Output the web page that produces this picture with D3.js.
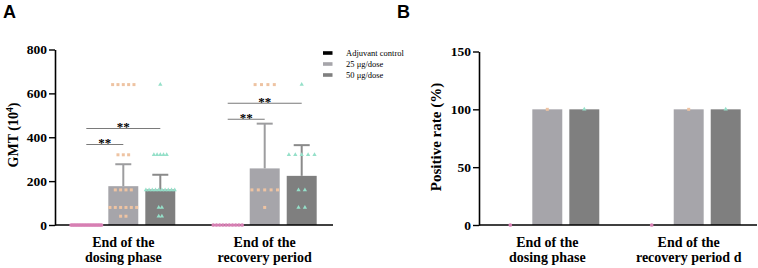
<!DOCTYPE html>
<html>
<head>
<meta charset="utf-8">
<script src="https://cdn.jsdelivr.net/npm/d3@7"></script>
<style>
  html, body { margin: 0; padding: 0; background: #fff; }
  svg text { font-family: "Liberation Serif", "Times New Roman", serif; }
</style>
</head>
<body>
<div id="chart"></div>
<script>
// categories
const groupsA = ["End of the|dosing phase", "End of the|recovery period"];
const groupsB = ["End of the|dosing phase", "End of the|recovery period d"];
const series = ["Adjuvant control", "25 μg/dose", "50 μg/dose"];

// panel A: GMT (10^4), bar = GMT, whisker = upper SD
const gmtDosing = [0, 177, 162];
const gmtRecovery = [0, 258, 224];
const errDosing = [0, 277, 229];
const errRecovery = [0, 462, 364];

// individual titers (10^4)
const ptsDosingAdj = [0, 0, 0, 0, 0, 0, 0, 0, 0, 0, 0, 0, 0, 0, 0, 0, 0, 0, 0, 0];
const ptsDosing25 = [640, 640, 640, 640, 640, 320, 320, 320, 160, 160, 160, 160, 80, 80, 80, 80, 80, 80, 40, 40];
const ptsDosing50 = [640, 320, 320, 320, 320, 320, 160, 160, 160, 160, 160, 160, 160, 160, 160, 160, 80, 80, 40, 40];
const ptsRecoveryAdj = [0, 0, 0, 0, 0, 0, 0, 0, 0, 0];
const ptsRecovery25 = [640, 640, 640, 640, 160, 160, 160, 160, 160, 80];
const ptsRecovery50 = [640, 320, 320, 320, 320, 320, 160, 160, 80, 80];

// significance brackets: group index, from series, to series, height (10^4)
const sigGroup = [0, 0, 1, 1];
const sigTo = [1, 2, 1, 2];
const sigY = [367, 440, 482, 555];
const sigLabel = ["**", "**", "**", "**"];

const yTicksA = [0, 200, 400, 600, 800];

// panel B: positive rate (%)
const rateDosing = [0, 100, 100];
const rateRecovery = [0, 100, 100];
const yTicksB = [0, 50, 100, 150];

const barColors = ["#000000", "#a6a5aa", "#7f7f7f"];
const errColors = ["#000000", "#9d9d9f", "#8a8a8a"];
const dotColors = ["#d77fb3", "#eec3a2", "#95e0c9"];
const dotShapes = [d3.symbolCircle, d3.symbolSquare, d3.symbolTriangle];
const dotSizes = [11, 9, 8];

const svg = d3.select("#chart").append("svg")
    .attr("width", 758).attr("height", 268);

function drawPanel(p) {
    const g = svg.append("g");
    const x0 = d3.scalePoint().domain(p.groups).range([p.left, p.left + 278]).padding(0.483);
    const xs = d3.scaleBand().domain(series).range([-55.5, 55.5]).paddingInner(0.19).paddingOuter(0.095);
    const y = d3.scaleLinear().domain(p.domain).range([225, p.top]);
    const bw = xs.bandwidth();
    const cx = (gi, si) => x0(p.groups[gi]) + xs(series[si]) + bw / 2;

    // bars (adjuvant bars are zero height)
    p.groups.forEach((grp, gi) => {
        series.forEach((s, si) => {
            const v = p.values[gi][si];
            if (v <= 0) return;
            g.append("rect")
                .attr("x", x0(grp) + xs(s)).attr("width", bw)
                .attr("y", y(v)).attr("height", y(0) - y(v))
                .attr("fill", barColors[si]);
        });
    });

    // error bars (upper only)
    if (p.err) {
        p.groups.forEach((grp, gi) => {
            series.forEach((s, si) => {
                const v = p.values[gi][si], e = p.err[gi][si];
                if (e <= v) return;
                const c = cx(gi, si);
                g.append("line").attr("x1", c).attr("x2", c).attr("y1", y(v)).attr("y2", y(e))
                    .attr("stroke", errColors[si]).attr("stroke-width", 2);
                g.append("line").attr("x1", c - 8).attr("x2", c + 8).attr("y1", y(e)).attr("y2", y(e))
                    .attr("stroke", errColors[si]).attr("stroke-width", 2);
            });
        });
    }

    // axes
    g.append("line").attr("x1", p.left).attr("x2", p.left + 278)
        .attr("y1", y(0)).attr("y2", y(0)).attr("stroke", "#000").attr("stroke-width", 1.6);
    const ax = g.append("g").attr("transform", `translate(${p.left},0)`)
        .call(d3.axisLeft(y).tickValues(p.ticks).tickSize(6).tickSizeOuter(0).tickPadding(2));
    ax.select(".domain").attr("stroke", "#000").attr("stroke-width", 1.6);
    ax.selectAll(".tick line").attr("stroke", "#000").attr("stroke-width", 1.4);
    ax.selectAll(".tick text").attr("font-family", "Liberation Serif, serif")
        .attr("font-weight", "bold").attr("font-size", 13.5).attr("fill", "#000");

    // scatter points
    p.points.forEach((row, gi) => {
        row.forEach((vals, si) => {
            if (!vals) return;
            const counts = d3.rollup(vals, v => v.length, d => d);
            const maxN = d3.max(Array.from(counts.values()));
            const gap = Math.min(7, 32 / maxN);
            counts.forEach((n, val) => {
                for (let k = 0; k < n; k++) {
                    const px = cx(gi, si) + (k - (n - 1) / 2) * gap;
                    g.append("path")
                        .attr("d", d3.symbol().type(dotShapes[si]).size(dotSizes[si])())
                        .attr("transform", `translate(${px},${y(val)})`)
                        .attr("fill", dotColors[si]);
                }
            });
        });
    });

    // significance brackets
    if (p.sig) {
        sigGroup.forEach((gi, i) => {
            const xa = cx(gi, 0), xb = cx(gi, sigTo[i]), yy = y(sigY[i]);
            g.append("line").attr("x1", xa).attr("x2", xb).attr("y1", yy).attr("y2", yy)
                .attr("stroke", "#7a7a7a").attr("stroke-width", 1.1);
            g.append("text").attr("x", (xa + xb) / 2).attr("y", yy + 2.5)
                .attr("text-anchor", "middle").attr("font-size", 13).attr("font-weight", "bold")
                .attr("fill", "#000").text(sigLabel[i]);
        });
    }

    // x category labels
    p.groups.forEach(grp => {
        const lines = grp.split("|");
        lines.forEach((ln, li) => {
            g.append("text").attr("x", x0(grp)).attr("y", 247 + li * 15)
                .attr("text-anchor", "middle").attr("font-size", 14).attr("font-weight", "bold")
                .attr("fill", "#000").text(ln);
        });
    });

    // y title
    const yt = g.append("text")
        .attr("transform", `translate(${p.titleX},${p.titleY}) rotate(-90)`)
        .attr("text-anchor", "middle").attr("font-size", p.titleSize).attr("font-weight", "bold")
        .attr("fill", "#000");
    p.title(yt);

    // panel letter (sans-serif, set as style so the css rule does not win)
    g.append("text").attr("x", p.letterX).attr("y", 18)
        .style("font-family", "'Liberation Sans', Arial, sans-serif")
        .attr("font-size", 18).attr("font-weight", "bold").attr("fill", "#000").text(p.letter);
}

drawPanel({
    left: 55, top: 49.5, domain: [0, 800], ticks: yTicksA, groups: groupsA,
    values: [gmtDosing, gmtRecovery], err: [errDosing, errRecovery],
    points: [[ptsDosingAdj, ptsDosing25, ptsDosing50], [ptsRecoveryAdj, ptsRecovery25, ptsRecovery50]],
    sig: true, letter: "A", letterX: 3, titleX: 18, titleY: 135, titleSize: 14,
    title: t => {
        t.append("tspan").text("GMT (10");
        t.append("tspan").attr("baseline-shift", "super").attr("font-size", 9.5).text("4");
        t.append("tspan").text(")");
    }
});

drawPanel({
    left: 479, top: 51.5, domain: [0, 150], ticks: yTicksB, groups: groupsB,
    values: [rateDosing, rateRecovery], err: null,
    points: [[[rateDosing[0]], [rateDosing[1]], [rateDosing[2]]], [[rateRecovery[0]], [rateRecovery[1]], [rateRecovery[2]]]],
    sig: false, letter: "B", letterX: 397, titleX: 441, titleY: 137, titleSize: 15,
    title: t => t.text("Positive rate (%)")
});

// legend
const leg = svg.append("g").attr("transform", "translate(323,53)");
series.forEach((s, i) => {
    leg.append("rect").attr("x", 0).attr("y", i * 11 - 1.8).attr("width", 9.5).attr("height", 3.6)
        .attr("fill", barColors[i]);
    leg.append("text").attr("x", 23).attr("y", i * 11 + 2.8).attr("font-size", 8.5)
        .attr("fill", "#000").text(s);
});
</script>
</body>
</html>
